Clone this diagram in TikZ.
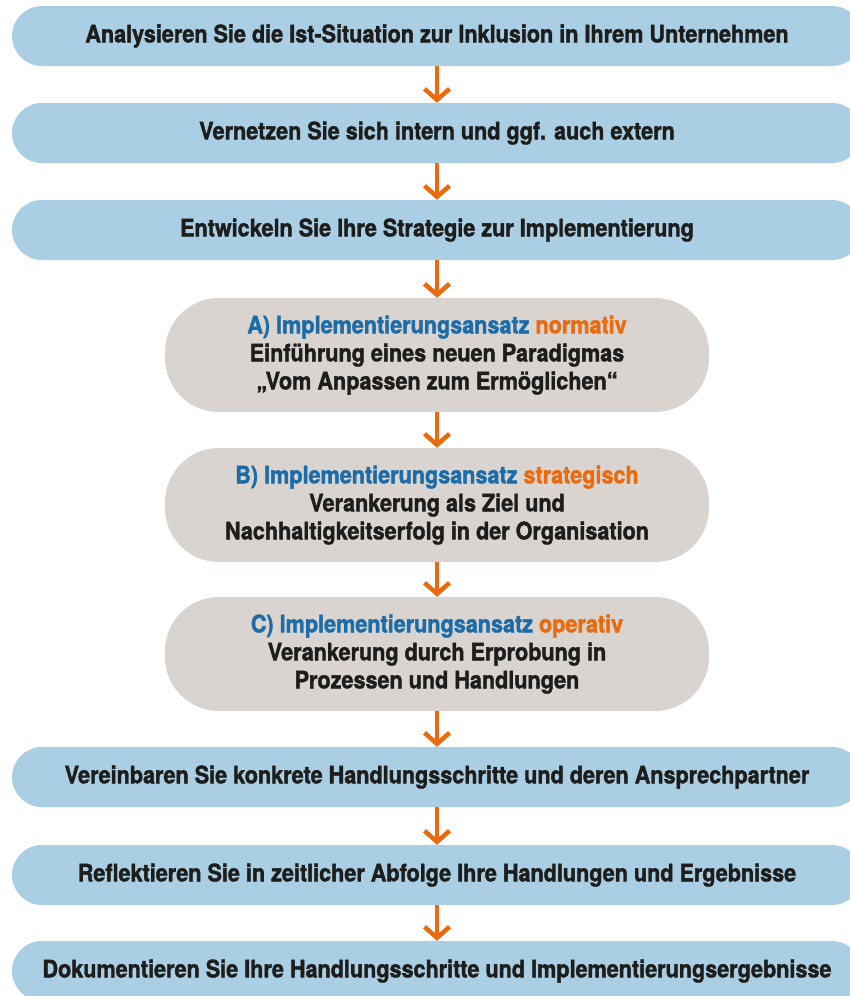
\documentclass[tikz,border=0pt]{standalone}
\usepackage{fontspec}
\setmainfont{TeX Gyre Heros}[FakeStretch=0.9, BoldFeatures={FakeBold=1.6}]
\usetikzlibrary{arrows.meta}
\definecolor{barblue}{HTML}{AACFE5}
\definecolor{boxgray}{HTML}{D9D4D0}
\definecolor{headblue}{HTML}{1B6CA8}
\definecolor{arrorange}{HTML}{EA6A0E}
\definecolor{txt}{HTML}{1D1D1B}

\begin{document}
\begin{tikzpicture}[x=1pt,y=1pt,
  bar/.style = {fill=barblue, text=txt, rounded corners=30pt, minimum width=850pt, minimum height=60pt, inner sep=0pt},
  pill/.style = {fill=boxgray, text=txt, rounded corners=54pt, minimum width=544pt, minimum height=114pt, inner sep=0pt, align=center},
  go/.style = {draw=arrorange, line width=4.5pt, -{Straight Barb[length=11pt,width=25pt]}},
  font=\fontsize{24}{28}\selectfont\bfseries,
  node distance={97pt}]
\useasboundingbox (0,0) rectangle (849,-996);
\node[bar] (1) at (437,-36) {Analysieren Sie die Ist-Situation zur Inklusion in Ihrem Unternehmen};
\node[bar] (2) [below of=1] {Vernetzen Sie sich intern und ggf. auch extern};
\node[bar] (3) [below of=2] {Entwickeln Sie Ihre Strategie zur Implementierung};
\node[pill] (4) [below of=3, node distance=125pt] {{\color{headblue}A) Implementierungsansatz} {\color{arrorange}normativ}\\Einführung eines neuen Paradigmas\\„Vom Anpassen zum Ermöglichen“};
\node[pill] (5) [below of=4, node distance=150pt] {{\color{headblue}B) Implementierungsansatz} {\color{arrorange}strategisch}\\Verankerung als Ziel und\\Nachhaltigkeitserfolg in der Organisation};
\node[pill] (6) [below of=5, node distance=149pt] {{\color{headblue}C) Implementierungsansatz} {\color{arrorange}operativ}\\Verankerung durch Erprobung in\\Prozessen und Handlungen};
\node[bar] (7) [below of=6, node distance=123pt] {Vereinbaren Sie konkrete Handlungsschritte und deren Ansprechpartner};
\node[bar] (8) [below of=7, node distance=98pt] {Reflektieren Sie in zeitlicher Abfolge Ihre Handlungen und Ergebnisse};
\node[bar] (9) [below of=8, node distance=96pt] {Dokumentieren Sie Ihre Handlungsschritte und Implementierungsergebnisse};
\draw[go] (1) -- (2);
\draw[go] (2) -- (3);
\draw[go] (3) -- (4);
\draw[go] (4) -- (5);
\draw[go] (5) -- (6);
\draw[go] (6) -- (7);
\draw[go] (7) -- (8);
\draw[go] (8) -- (9);
\end{tikzpicture}
\end{document}
